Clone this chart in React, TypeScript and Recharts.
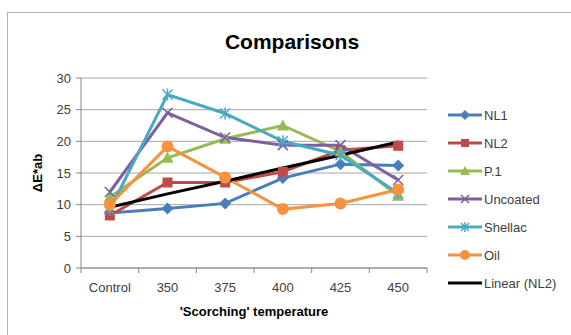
import { LineChart, Line, XAxis, YAxis, CartesianGrid } from "recharts";

// categories on the x axis
const categories = ["Control", "350", "375", "400", "425", "450"];

// values (ΔE*ab)
const nl1 = [8.7, 9.4, 10.2, 14.2, 16.4, 16.2];
const nl2 = [8.3, 13.5, 13.5, 15.2, 18.6, 19.3];
const p1 = [11.2, 17.4, 20.4, 22.5, 18.4, 11.4];
const uncoated = [12.0, 24.5, 20.6, 19.4, 19.4, 13.9];
const shellac = [9.2, 27.4, 24.4, 20.0, 17.8, 11.8];
const oil = [10.0, 19.2, 14.3, 9.3, 10.2, 12.4];
// linear trendline of NL2, as drawn
const linearNl2 = [9.6, 11.7, 13.7, 15.8, 17.8, 19.9];

const yTicks = [0, 5, 10, 15, 20, 25, 30];

const data = categories.map((c, i) => ({
  cat: c,
  NL1: nl1[i],
  NL2: nl2[i],
  "P.1": p1[i],
  Uncoated: uncoated[i],
  Shellac: shellac[i],
  Oil: oil[i],
  "Linear (NL2)": linearNl2[i],
}));

const SERIES = [
  { key: "NL1", color: "#4a7ebb", shape: "diamond" },
  { key: "NL2", color: "#be4b48", shape: "square" },
  { key: "P.1", color: "#98b954", shape: "triangle" },
  { key: "Uncoated", color: "#7d60a0", shape: "x" },
  { key: "Shellac", color: "#46aac5", shape: "star" },
  { key: "Oil", color: "#f69240", shape: "circle" },
];

const FONT = "'Liberation Sans', Arial, sans-serif";

function Marker({ cx, cy, shape, color, s = 1 }: any) {
  if (cx == null || cy == null) return null;
  const r = 5 * s;
  switch (shape) {
    case "diamond":
      return <path d={`M${cx},${cy - r - 1} L${cx + r + 1},${cy} L${cx},${cy + r + 1} L${cx - r - 1},${cy} Z`} fill={color} />;
    case "square":
      return <rect x={cx - r} y={cy - r} width={2 * r} height={2 * r} fill={color} />;
    case "triangle":
      return <path d={`M${cx},${cy - r - 1} L${cx + r + 1},${cy + r} L${cx - r - 1},${cy + r} Z`} fill={color} />;
    case "x":
      return (
        <path d={`M${cx - r},${cy - r} L${cx + r},${cy + r} M${cx - r},${cy + r} L${cx + r},${cy - r}`} stroke={color} strokeWidth={1.5} />
      );
    case "star":
      return (
        <path
          d={`M${cx - r},${cy - r} L${cx + r},${cy + r} M${cx - r},${cy + r} L${cx + r},${cy - r} M${cx},${cy - r - 1} L${cx},${cy + r + 1}`}
          stroke={color}
          strokeWidth={1.5}
        />
      );
    default:
      return <circle cx={cx} cy={cy} r={r + 1} fill={color} />;
  }
}

// category label in the band centre, tick mark at the band edges (Excel style)
function CatTick(props: any) {
  const { x, y, payload, index, visibleTicksCount } = props;
  const half = payload.offset || 0;
  return (
    <g>
      <line x1={x - half} y1={y} x2={x - half} y2={y + 5} stroke="#868686" />
      {index === visibleTicksCount - 1 && <line x1={x + half} y1={y} x2={x + half} y2={y + 5} stroke="#868686" />}
      <text x={x} y={y + 24} textAnchor="middle" fontFamily={FONT} fontSize={13} fill="#404040">
        {payload.value}
      </text>
    </g>
  );
}

function LegendBox() {
  const rows = [...SERIES, { key: "Linear (NL2)", color: "#000000", shape: "none" }];
  return (
    <div style={{ position: "absolute", left: 447, top: 101, width: 124, fontFamily: FONT, fontSize: 13, color: "#404040" }}>
      {rows.map((r) => (
        <div key={r.key} style={{ display: "flex", alignItems: "center", height: 28 }}>
          <svg width={36} height={14} style={{ marginRight: 1 }}>
            <line x1={1} y1={7} x2={35} y2={7} stroke={r.color} strokeWidth={3} />
            {r.shape !== "none" && <Marker cx={18} cy={7} shape={r.shape} color={r.color} s={0.8} />}
          </svg>
          <span>{r.key}</span>
        </div>
      ))}
    </div>
  );
}

export default function App() {
  return (
    <div style={{ position: "absolute", left: 0, top: 0, width: 571, height: 335, background: "#fff", overflow: "hidden" }}>
      <div style={{ position: "absolute", left: 7, top: 12, width: 600, height: 400, borderLeft: "1px solid #b3b3b3", borderTop: "1px solid #b3b3b3" }} />
      <div style={{ position: "absolute", left: 0, top: 30, width: 584, textAlign: "center", fontFamily: FONT, fontWeight: "bold", fontSize: 21, color: "#000" }}>
        Comparisons
      </div>
      <div
        style={{
          position: "absolute",
          left: 37,
          top: 173,
          transform: "translate(-50%, -50%) rotate(-90deg)",
          fontFamily: FONT,
          fontWeight: "bold",
          fontSize: 13,
          color: "#000",
          whiteSpace: "nowrap",
        }}
      >
        ΔE*ab
      </div>
      <div style={{ position: "absolute", left: 81, width: 346, top: 304, textAlign: "center", fontFamily: FONT, fontWeight: "bold", fontSize: 13, color: "#000" }}>
        'Scorching' temperature
      </div>
      <LineChart width={571} height={335} data={data} margin={{ top: 78, right: 144, bottom: 37, left: 41 }} style={{ position: "absolute", left: 0, top: 0 }}>
        <CartesianGrid vertical={false} stroke="#a6a6a6" />
        <XAxis
          dataKey="cat"
          scale="band"
          height={30}
          stroke="#868686"
          tickLine={false}
          tickSize={0}
          tickMargin={0}
          tick={<CatTick />}
          interval={0}
        />
        <YAxis
          width={40}
          domain={[0, 30]}
          ticks={yTicks}
          stroke="#868686"
          tickSize={5}
          tick={{ fontFamily: FONT, fontSize: 13, fill: "#404040" }}
          tickMargin={5}
        />
        {SERIES.map((s) => (
          <Line
            key={s.key}
            dataKey={s.key}
            stroke={s.color}
            strokeWidth={3}
            isAnimationActive={false}
            dot={(p: any) => <Marker key={`${s.key}-${p.index}`} cx={p.cx} cy={p.cy} shape={s.shape} color={s.color} />}
            activeDot={false}
          />
        ))}
        <Line dataKey="Linear (NL2)" stroke="#000000" strokeWidth={3} dot={false} activeDot={false} isAnimationActive={false} />
      </LineChart>
      <LegendBox />
    </div>
  );
}
